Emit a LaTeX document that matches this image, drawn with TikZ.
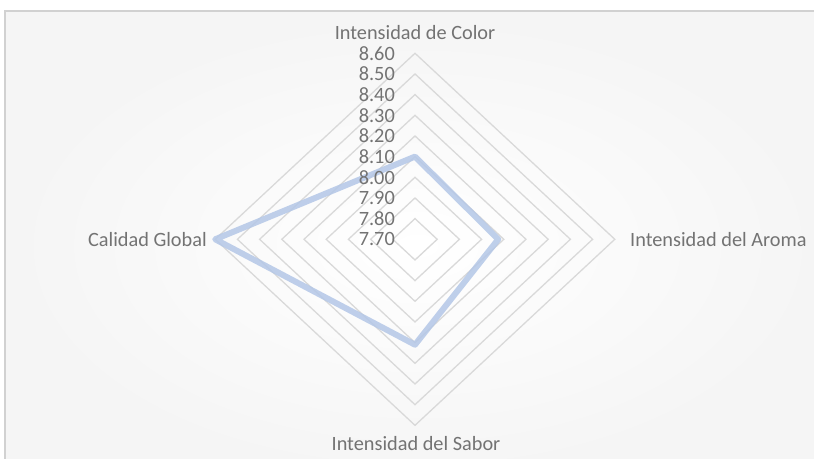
\documentclass[tikz,border=0pt]{standalone}
\usepackage{fontspec}
\setmainfont{Carlito}
\definecolor{grid}{HTML}{D9D9D9}
\definecolor{series}{HTML}{B4C7E7}
\definecolor{lbl}{HTML}{737373}
\def\cx{415}
\def\cy{239.3}
\def\dx{22.2}
\def\dy{20.67}

\begin{document}
\begin{tikzpicture}[x=1bp, y=-1bp, font=\fontsize{20.3bp}{24bp}\selectfont,
  every node/.style={text=lbl, inner sep=0pt}]
\useasboundingbox (0,0) rectangle (814,459);
\clip (0,0) rectangle (814,459);
\shade[inner color=white, outer color=black!4] (5,11) rectangle (830,480);
\draw[black!18, line width=1.2bp] (5,480) |- (830,11);

% rings
\foreach \k in {1,...,9}{
	\draw[grid, line width=1.3bp] (\cx,\cy-\k*\dy) -- (\cx+\k*\dx,\cy) -- (\cx,\cy+\k*\dy) -- (\cx-\k*\dx,\cy) -- cycle;
}

\coordinate (color) at (\cx,\cy-4*\dy);
\coordinate (aroma) at (\cx+3.75*\dx,\cy);
\coordinate (sabor) at (\cx,\cy+5.1*\dy);
\coordinate (global) at (\cx-9*\dx,\cy);

\draw[series, line width=6bp, line join=round, opacity=.85] (color) -- (aroma) -- (sabor) -- (global) -- cycle;

% scale
\foreach \k/\v in {0/7.70, 1/7.80, 2/7.90, 3/8.00, 4/8.10, 5/8.20, 6/8.30, 7/8.40, 8/8.50, 9/8.60}{
	\node[anchor=east] (v\k) at (395,\cy-\k*\dy) {\v};
}

\node (tColor) at (415,33) {Intensidad de Color};
\node[anchor=west] (tAroma) at (630,240) {Intensidad del Aroma};
\node (tSabor) at (416,444) {Intensidad del Sabor};
\node[anchor=east] (tGlobal) at (207,240) {Calidad Global};
\end{tikzpicture}
\end{document}
